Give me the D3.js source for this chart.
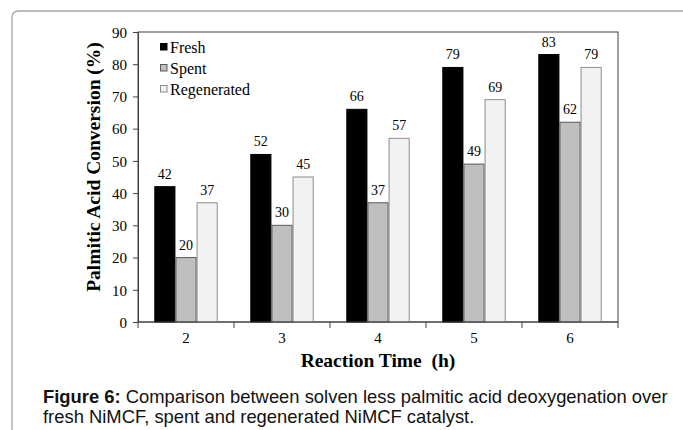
<!DOCTYPE html>
<html>
<head>
<meta charset="utf-8">
<script src="https://cdn.jsdelivr.net/npm/d3@7"></script>
<style>
  body { margin: 0; background: #fff; }
  svg { display: block; }
  .tick text { font-family: "Liberation Serif", "Times New Roman", serif; font-size: 15px; fill: #000; }
  .vlabel { font-family: "Liberation Serif", "Times New Roman", serif; font-size: 14px; fill: #000; }
  .legend text { font-family: "Liberation Serif", "Times New Roman", serif; font-size: 16px; fill: #000; }
  .title { font-family: "Liberation Serif", "Times New Roman", serif; font-size: 19.5px; font-weight: bold; fill: #000; }
  .caption { font-family: "Liberation Sans", Arial, sans-serif; font-size: 18.4px; fill: #111; }
</style>
</head>
<body>
<div id="chart"></div>
<script>
// data
let times = ["2", "3", "4", "5", "6"];
let seriesNames = ["Fresh", "Spent", "Regenerated"];
let fresh = [42, 52, 66, 79, 83];
let spent = [20, 30, 37, 49, 62];
let regenerated = [37, 45, 57, 69, 79];
let yTicks = [0, 10, 20, 30, 40, 50, 60, 70, 80, 90];

let seriesValues = [fresh, spent, regenerated];
let fills = ["#000000", "#bfbfbf", "#f2f2f2"];
let strokes = ["#000000", "#595959", "#8c8c8c"];

let width = 683;
let height = 430;
let plot = {left: 138, top: 32, right: 618, bottom: 322};

let svg = d3.select("#chart").append("svg")
  .attr("width", width)
  .attr("height", height);

// outer rounded frame (runs off the right and bottom)
svg.append("rect")
  .attr("x", 12).attr("y", 11)
  .attr("width", 700).attr("height", 450)
  .attr("rx", 6)
  .attr("fill", "none")
  .attr("stroke", "#a6a6a6")
  .attr("stroke-width", 1.3);

let x0 = d3.scaleBand().domain(times).range([plot.left, plot.right]).padding(0);
let x1 = d3.scaleBand().domain(seriesNames).range([16.3, x0.bandwidth() - 16.3]).padding(0);
let y = d3.scaleLinear().domain([0, 90]).range([plot.bottom, plot.top]);

// plot frame
svg.append("rect")
  .attr("x", plot.left).attr("y", plot.top)
  .attr("width", plot.right - plot.left).attr("height", plot.bottom - plot.top)
  .attr("fill", "none")
  .attr("stroke", "#404040");

// bars
let groups = svg.selectAll(".grp")
  .data(times)
  .enter().append("g")
  .attr("class", "grp")
  .attr("transform", function(d) { return "translate(" + x0(d) + ",0)"; });

seriesNames.forEach(function(s, si) {
  groups.append("rect")
    .attr("x", x1(s) + 0.5)
    .attr("y", function(d, i) { return y(seriesValues[si][i]); })
    .attr("width", x1.bandwidth() - 1)
    .attr("height", function(d, i) { return y(0) - y(seriesValues[si][i]); })
    .attr("fill", fills[si])
    .attr("stroke", strokes[si])
    .attr("stroke-width", 1);
  groups.append("text")
    .attr("class", "vlabel")
    .attr("x", x1(s) + x1.bandwidth() / 2)
    .attr("y", function(d, i) { return y(seriesValues[si][i]) - 8; })
    .attr("text-anchor", "middle")
    .text(function(d, i) { return seriesValues[si][i]; });
});

// y axis
let yAxis = svg.append("g")
  .attr("transform", "translate(" + plot.left + ",0)")
  .call(d3.axisLeft(y).tickValues(yTicks).tickSize(5).tickPadding(6));
yAxis.select(".domain").attr("stroke", "#404040");
yAxis.selectAll(".tick line").attr("stroke", "#404040");
yAxis.selectAll(".tick text").attr("dy", "0.35em");

// x axis: ticks sit on the band edges
let xAxis = svg.append("g")
  .attr("transform", "translate(0," + plot.bottom + ")");
xAxis.append("line")
  .attr("x1", plot.left).attr("x2", plot.right)
  .attr("stroke", "#404040");
xAxis.selectAll(".xt")
  .data(times.concat(["end"]))
  .enter().append("line")
  .attr("x1", function(d, i) { return plot.left + i * x0.bandwidth(); })
  .attr("x2", function(d, i) { return plot.left + i * x0.bandwidth(); })
  .attr("y1", 0).attr("y2", 6)
  .attr("stroke", "#404040");
xAxis.selectAll(".tick")
  .data(times)
  .enter().append("g").attr("class", "tick")
  .append("text")
  .attr("x", function(d) { return x0(d) + x0.bandwidth() / 2; })
  .attr("y", 21)
  .attr("text-anchor", "middle")
  .text(function(d) { return d; });

// axis titles
svg.append("text")
  .attr("class", "title")
  .attr("x", 378).attr("y", 367)
  .attr("text-anchor", "middle")
  .attr("xml:space", "preserve")
  .text("Reaction Time  (h)");

svg.append("text")
  .attr("class", "title")
  .attr("transform", "translate(100,167) rotate(-90)")
  .attr("text-anchor", "middle")
  .text("Palmitic Acid Conversion (%)");

// legend
let legend = svg.append("g")
  .attr("class", "legend")
  .attr("transform", "translate(160,0)")
  .selectAll("g")
  .data(seriesNames)
  .enter().append("g")
  .attr("transform", function(d, i) { return "translate(0," + (53 + i * 21) + ")"; });
legend.append("rect")
  .attr("x", 0.5).attr("y", -9.5)
  .attr("width", 6.5).attr("height", 6.5)
  .attr("fill", function(d, i) { return fills[i]; })
  .attr("stroke", function(d, i) { return strokes[i]; });
legend.append("text")
  .attr("x", 10)
  .text(function(d) { return d; });

// caption
let cap = svg.append("text").attr("class", "caption");
let l1 = cap.append("tspan").attr("x", 43).attr("y", 403);
l1.append("tspan").attr("font-weight", "bold").text("Figure 6:");
l1.append("tspan").text(" Comparison between solven less palmitic acid deoxygenation over");
cap.append("tspan").attr("x", 43).attr("y", 423).text("fresh NiMCF, spent and regenerated NiMCF catalyst.");
</script>
</body>
</html>
